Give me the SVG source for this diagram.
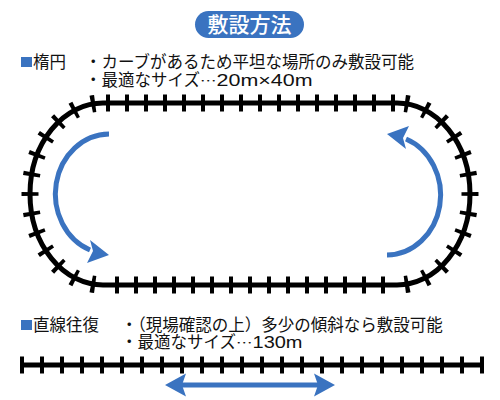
<svg xmlns="http://www.w3.org/2000/svg" width="500" height="400" viewBox="0 0 500 400">
  <defs>
    <linearGradient id="sep" x1="0" y1="0" x2="1" y2="0">
      <stop offset="0" stop-color="#444" stop-opacity="0"/>
      <stop offset="0.25" stop-color="#444" stop-opacity="1"/>
      <stop offset="0.75" stop-color="#444" stop-opacity="1"/>
      <stop offset="1" stop-color="#444" stop-opacity="0"/>
    </linearGradient>
  </defs>
  <style>
    .txt { font-family: "Liberation Sans", "Noto Sans CJK JP", sans-serif; font-size: 16.5px; fill: #111; }
    .ell { font-family: "Noto Sans CJK JP", sans-serif; font-size: 12px; }
    .title { font-family: "Noto Sans CJK JP", "Noto Sans", sans-serif; font-size: 21px; fill: #fff; font-weight: 500; }
    .blue { fill: #3a73c0; }
    .rail { fill: none; stroke: #000; stroke-width: 5; }
    .ties { fill: none; stroke: #000; stroke-width: 17; }
    .flow { fill: none; stroke: #3a73c0; stroke-width: 5; }
  </style>
  <rect width="500" height="400" fill="#fff"/>

  <g id="title">
    <rect class="blue" x="195" y="11" width="109" height="27" rx="13.5"/>
    <text class="title" x="249.5" y="32" text-anchor="middle">敷設方法</text>
  </g>

  <g id="oval-label">
    <rect class="blue" x="21" y="57" width="11" height="10"/>
    <text class="txt" x="33" y="67.5">楕円</text>
    <text class="txt"><tspan x="85" y="67.5">・カーブがあるため平坦な場所のみ敷設可能</tspan><tspan x="85" y="85.5">・最適なサイズ<tspan class="ell" textLength="16.5" lengthAdjust="spacingAndGlyphs">…</tspan><tspan textLength="96" lengthAdjust="spacingAndGlyphs">20m×40m</tspan></tspan></text>
  </g>

  <g id="oval-track">
    <path class="rail" d="M103,103 H397 A73 91 0 0 1 397,285 H103 A73 91 0 0 1 103,103 Z"/>
    <path class="ties" d="M103,103 H397" stroke-dasharray="4 15" stroke-dashoffset="-3"/>
    <path class="ties" d="M397,103 A73 91 0 0 1 397,285" pathLength="260" stroke-dasharray="4 16" stroke-dashoffset="-8"/>
    <path class="ties" d="M397,285 H103" stroke-dasharray="4 15" stroke-dashoffset="-12"/>
    <path class="ties" d="M103,285 A73 91 0 0 1 103,103" pathLength="260" stroke-dasharray="4 16" stroke-dashoffset="-8"/>
  </g>

  <g id="connectors">
    <g id="flow-left">
      <path class="flow" d="M109,134 A54 60 0 0 0 90,250"/>
      <polygon class="blue" points="109,255 90,240 93,251 87,263"/>
    </g>
    <g id="flow-right" transform="rotate(180 248 194.5)">
      <path class="flow" d="M109,134 A54 60 0 0 0 90,250"/>
      <polygon class="blue" points="109,255 90,240 93,251 87,263"/>
    </g>
    <g id="flow-straight">
      <line class="flow" x1="180" y1="385" x2="320" y2="385"/>
      <polygon class="blue" points="165,385 186,373.5 182,385 186,396.5"/>
      <polygon class="blue" points="335,385 314,373.5 318,385 314,396.5"/>
    </g>
  </g>

  <line id="separator" x1="15" y1="306.5" x2="467" y2="306.5" stroke="url(#sep)" stroke-width="1.3"/>

  <g id="straight-label">
    <rect class="blue" x="21" y="320" width="11" height="10"/>
    <text class="txt" x="33" y="330.5">直線往復</text>
    <text class="txt"><tspan x="121" y="330.5">・（現場確認の上）多少の傾斜なら敷設可能</tspan><tspan x="121" y="347.5">・最適なサイズ<tspan class="ell" textLength="16.5" lengthAdjust="spacingAndGlyphs">…</tspan><tspan textLength="50" lengthAdjust="spacingAndGlyphs">130m</tspan></tspan></text>
  </g>

  <g id="straight-track">
    <line class="rail" x1="20" y1="365" x2="484" y2="365"/>
    <path class="ties" d="M20,365 H486" stroke-dasharray="4 16"/>
  </g>
</svg>
